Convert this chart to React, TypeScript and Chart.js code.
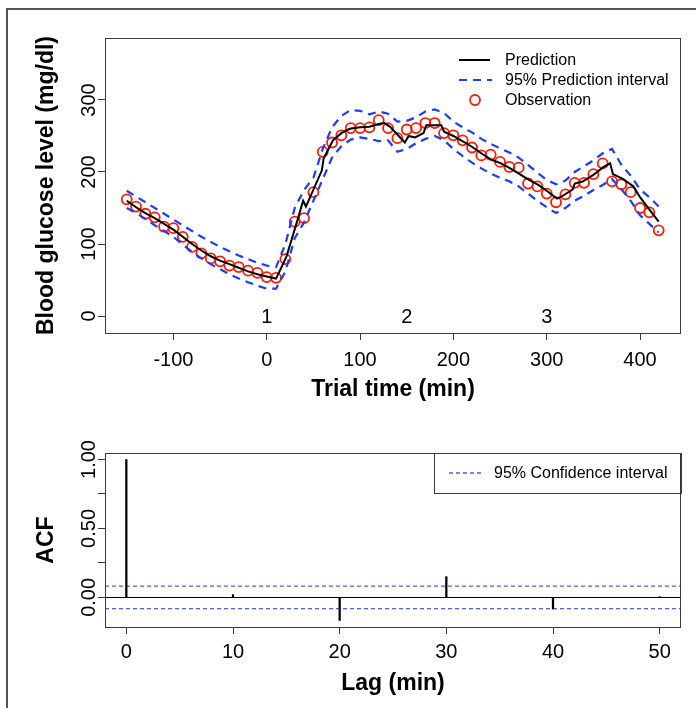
import React, { useEffect, useRef } from "react";
import { Chart, registerables } from "chart.js";
Chart.register(...registerables);

// ---------- Top panel data ----------
const obsTime = [-150, -140, -130, -120, -110, -100, -90, -80, -70, -60, -50, -40, -30, -20, -10, 0, 10, 20, 30, 40, 50, 60, 70, 80, 90, 100, 110, 120, 130, 140, 150, 160, 170, 180, 190, 200, 210, 220, 230, 240, 250, 260, 270, 280, 290, 300, 310, 320, 330, 340, 350, 360, 370, 380, 390, 400, 410, 420];
const obsValue = [162, 152, 142, 137, 124, 122, 110, 96, 87, 80, 76, 70, 68, 63, 60, 54, 53, 79, 131, 136, 172, 228, 241, 251, 261, 261, 262, 272, 261, 247, 259, 261, 268, 268, 254, 251, 244, 234, 223, 224, 214, 207, 206, 184, 180, 170, 158, 169, 185, 185, 197, 212, 187, 183, 172, 150, 144, 119];
const upperValue = [174, 166, 158, 150, 142, 134, 126, 118, 110, 103, 96, 90, 84, 79, 74, 70, 68, 100, 150, 175, 192, 232, 262, 278, 286, 285, 280, 284, 281, 270, 271, 276, 284, 287, 282, 270, 262, 255, 246, 239, 233, 227, 220, 210, 199, 189, 183, 188, 200, 208, 216, 226, 232, 210, 195, 176, 165, 152];
const lowerValue = [150, 143, 135, 126, 118, 110, 99, 89, 80, 72, 65, 58, 52, 47, 42, 38, 38, 62, 108, 130, 160, 190, 220, 236, 245, 248, 246, 243, 244, 228, 232, 240, 246, 250, 244, 232, 222, 213, 205, 198, 192, 187, 180, 170, 160, 151, 143, 150, 160, 167, 175, 182, 190, 176, 160, 140, 128, 116];
const predTime = [-150, -140, -130, -120, -110, -100, -90, -80, -70, -60, -50, -40, -30, -20, -10, 0, 10, 21, 32, 39, 42, 59, 61, 71, 80, 89, 100, 110, 121, 126, 132, 148, 152, 159, 168, 171, 187, 190, 200, 211, 221, 231, 241, 251, 261, 271, 281, 291, 301, 311, 316, 328, 330, 339, 350, 361, 368, 371, 382, 393, 400, 407, 420];
const predValue = [160, 151, 143, 136, 128, 120, 110, 100, 91, 83, 77, 72, 67, 62, 58, 55, 52, 82, 129, 160, 152, 202, 219, 244, 254, 260, 262, 263, 267, 268, 263, 241, 250, 248, 254, 265, 265, 256, 250, 242, 234, 225, 217, 212, 205, 197, 189, 182, 173, 163, 166, 176, 184, 187, 196, 207, 212, 197, 190, 180, 165, 153, 131];
const xTicks = [-100, 0, 100, 200, 300, 400];
const yTicks = [0, 100, 200, 300];
const markerTimes = [0, 150, 300];
const markerLabels = ["1", "2", "3"];
const topLegend = ["Prediction", "95% Prediction interval", "Observation"];

// ---------- Bottom panel data ----------
const acfLag = [0, 10, 20, 30, 40, 50];
const acfValue = [1.0, 0.02, -0.168, 0.15, -0.085, 0.005];
const ciLevel = 0.082;
const lagTicks = [0, 10, 20, 30, 40, 50];
const acfTicks = [0, 0.25, 0.5, 0.75, 1.0];
const acfTickLabels = ["0.00", "", "0.50", "", "1.00"];
const bottomLegend = "95% Confidence interval";

const FONT = "'Liberation Sans', Arial, Helvetica, sans-serif";
const BLUE = "#1a3cff";
const RED = "#ff1a00";
const AXIS = "#3a3a3a";

const topPlugin = {
  id: "topDecor",
  afterDraw(chart: any) {
    const { ctx, chartArea: a, scales } = chart;
    const x = scales.x, y = scales.y;
    ctx.save();
    ctx.strokeStyle = AXIS;
    ctx.lineWidth = 1;
    ctx.strokeRect(a.left + 0.5, a.top + 0.5, a.right - a.left - 1, a.bottom - a.top);
    ctx.fillStyle = "#000";
    ctx.font = `20px ${FONT}`;
    ctx.textAlign = "center";
    ctx.textBaseline = "alphabetic";
    xTicks.forEach((v) => ctx.fillText(String(v), x.getPixelForValue(v), 366));
    yTicks.forEach((v) => {
      ctx.save();
      ctx.translate(95, y.getPixelForValue(v));
      ctx.rotate(-Math.PI / 2);
      ctx.fillText(String(v), 0, 0);
      ctx.restore();
    });
    markerTimes.forEach((t, i) => {
      ctx.fillText(markerLabels[i], x.getPixelForValue(t), y.getPixelForValue(0) + 7);
    });
    ctx.font = `bold 23px ${FONT}`;
    ctx.fillText("Trial time (min)", (a.left + a.right) / 2, 396);
    ctx.save();
    ctx.translate(53, (a.top + a.bottom) / 2);
    ctx.rotate(-Math.PI / 2);
    ctx.fillText("Blood glucose level (mg/dl)", 0, 0);
    ctx.restore();
    // legend
    ctx.font = `16px ${FONT}`;
    ctx.textAlign = "left";
    ctx.textBaseline = "middle";
    const rows = [60, 80, 100];
    ctx.lineWidth = 2;
    ctx.strokeStyle = "#000";
    ctx.beginPath();
    ctx.moveTo(459, rows[0]);
    ctx.lineTo(490, rows[0]);
    ctx.stroke();
    ctx.strokeStyle = BLUE;
    ctx.lineWidth = 2.2;
    ctx.setLineDash([8, 6]);
    ctx.beginPath();
    ctx.moveTo(459, rows[1]);
    ctx.lineTo(492, rows[1]);
    ctx.stroke();
    ctx.setLineDash([]);
    ctx.strokeStyle = RED;
    ctx.lineWidth = 1.8;
    ctx.beginPath();
    ctx.arc(475, rows[2], 5, 0, Math.PI * 2);
    ctx.stroke();
    topLegend.forEach((s, i) => ctx.fillText(s, 505, rows[i] + 1));
    ctx.restore();
  },
};

const bottomPlugin = {
  id: "bottomDecor",
  beforeDatasetsDraw(chart: any) {
    const { ctx, chartArea: a, scales } = chart;
    const y = scales.y;
    ctx.save();
    ctx.beginPath();
    ctx.rect(a.left, a.top, a.right - a.left, a.bottom - a.top);
    ctx.clip();
    ctx.strokeStyle = "#000";
    ctx.lineWidth = 1;
    const y0 = Math.round(y.getPixelForValue(0)) + 0.5;
    ctx.beginPath();
    ctx.moveTo(a.left, y0);
    ctx.lineTo(a.right, y0);
    ctx.stroke();
    ctx.strokeStyle = "#4d5cff";
    ctx.lineWidth = 1.3;
    ctx.setLineDash([4, 3]);
    [ciLevel, -ciLevel].forEach((c) => {
      const yy = y.getPixelForValue(c);
      ctx.beginPath();
      ctx.moveTo(a.left, yy);
      ctx.lineTo(a.right, yy);
      ctx.stroke();
    });
    ctx.restore();
  },
  afterDraw(chart: any) {
    const { ctx, chartArea: a, scales } = chart;
    const x = scales.x, y = scales.y;
    ctx.save();
    ctx.fillStyle = "#fff";
    ctx.fillRect(434, a.top, a.right - 434, 40);
    ctx.strokeStyle = AXIS;
    ctx.lineWidth = 1;
    ctx.strokeRect(434.5, a.top + 0.5, a.right - 434, 40);
    ctx.strokeRect(a.left + 0.5, a.top + 0.5, a.right - a.left - 1, a.bottom - a.top);
    ctx.strokeStyle = "#4d5cff";
    ctx.lineWidth = 1.3;
    ctx.setLineDash([4, 3]);
    ctx.beginPath();
    ctx.moveTo(449, a.top + 20);
    ctx.lineTo(481, a.top + 20);
    ctx.stroke();
    ctx.setLineDash([]);
    ctx.fillStyle = "#000";
    ctx.font = `16px ${FONT}`;
    ctx.textAlign = "left";
    ctx.textBaseline = "middle";
    ctx.fillText(bottomLegend, 494, a.top + 21);
    ctx.font = `20px ${FONT}`;
    ctx.textAlign = "center";
    ctx.textBaseline = "alphabetic";
    lagTicks.forEach((v) => ctx.fillText(String(v), x.getPixelForValue(v), 238));
    acfTicks.forEach((v, i) => {
      if (!acfTickLabels[i]) return;
      ctx.save();
      ctx.translate(95, y.getPixelForValue(v));
      ctx.rotate(-Math.PI / 2);
      ctx.fillText(acfTickLabels[i], 0, 0);
      ctx.restore();
    });
    ctx.font = `bold 23px ${FONT}`;
    ctx.fillText("Lag (min)", (a.left + a.right) / 2, 270);
    ctx.save();
    ctx.translate(53, (a.top + a.bottom) / 2);
    ctx.rotate(-Math.PI / 2);
    ctx.fillText("ACF", 0, 0);
    ctx.restore();
    ctx.restore();
  },
};

function axisCommon(ticks: number[], fit: (s: any) => void) {
  return {
    type: "linear" as const,
    afterBuildTicks: (s: any) => {
      s.ticks = ticks.map((v) => ({ value: v }));
    },
    afterFit: fit,
    ticks: { display: false },
    grid: { offset: false, drawOnChartArea: false, drawTicks: true, tickLength: 7, color: AXIS, lineWidth: 1 },
    border: { display: false },
  };
}

export default function App() {
  const topRef = useRef<HTMLCanvasElement>(null);
  const botRef = useRef<HTMLCanvasElement>(null);

  useEffect(() => {
    const top = new Chart(topRef.current as HTMLCanvasElement, {
      type: "scatter",
      data: {
        datasets: [
          {
            label: "upper",
            data: obsTime.map((t, i) => ({ x: t, y: upperValue[i] })),
            showLine: true,
            borderColor: BLUE,
            borderWidth: 2.2,
            borderDash: [8, 6],
            pointRadius: 0,
          },
          {
            label: "lower",
            data: obsTime.map((t, i) => ({ x: t, y: lowerValue[i] })),
            showLine: true,
            borderColor: BLUE,
            borderWidth: 2.2,
            borderDash: [8, 6],
            pointRadius: 0,
          },
          {
            label: "Prediction",
            data: predTime.map((t, i) => ({ x: t, y: predValue[i] })),
            showLine: true,
            borderColor: "#000",
            borderWidth: 2,
            pointRadius: 0,
          },
          {
            label: "Observation",
            data: obsTime.map((t, i) => ({ x: t, y: obsValue[i] })),
            showLine: false,
            pointRadius: 5,
            pointBorderWidth: 1.8,
            pointBorderColor: RED,
            pointBackgroundColor: "rgba(0,0,0,0)",
          },
        ],
      } as any,
      options: {
        animation: false,
        responsive: false,
        events: [],
        layout: { padding: { left: 0, right: 15, top: 38, bottom: 0 } },
        plugins: { legend: { display: false }, tooltip: { enabled: false } },
        scales: {
          x: { ...axisCommon(xTicks, (s: any) => { s.height = 87; }), min: -173.3, max: 443.9 },
          y: { ...axisCommon(yTicks, (s: any) => { s.width = 105; }), min: -23.6, max: 386.1 },
        },
      } as any,
      plugins: [topPlugin],
    });

    const bottom = new Chart(botRef.current as HTMLCanvasElement, {
      type: "bar",
      data: {
        datasets: [
          {
            label: "ACF",
            data: acfLag.map((l, i) => ({ x: l, y: acfValue[i] })),
            backgroundColor: "#000",
            borderWidth: 0,
            barThickness: 1.6,
          },
        ],
      } as any,
      options: {
        animation: false,
        responsive: false,
        events: [],
        layout: { padding: { left: 0, right: 15, top: 33, bottom: 0 } },
        plugins: { legend: { display: false }, tooltip: { enabled: false } },
        scales: {
          x: { ...axisCommon(lagTicks, (s: any) => { s.height = 81; }), min: -2, max: 52, offset: false },
          y: { ...axisCommon(acfTicks, (s: any) => { s.width = 105; }), min: -0.215, max: 1.047 },
        },
      } as any,
      plugins: [bottomPlugin],
    });

    return () => {
      top.destroy();
      bottom.destroy();
    };
  }, []);

  return (
    <div style={{ position: "fixed", left: 0, top: 0, width: 696, height: 708, background: "#fff", overflow: "hidden" }}>
      <canvas ref={topRef} width={696} height={420} style={{ position: "absolute", left: 0, top: 0, width: 696, height: 420 }} />
      <canvas ref={botRef} width={696} height={288} style={{ position: "absolute", left: 0, top: 420, width: 696, height: 288 }} />
      <div style={{ position: "absolute", left: 6, top: 8, width: 690, height: 2, background: "#555" }} />
      <div style={{ position: "absolute", left: 6, top: 8, width: 2, height: 700, background: "#555" }} />
    </div>
  );
}
